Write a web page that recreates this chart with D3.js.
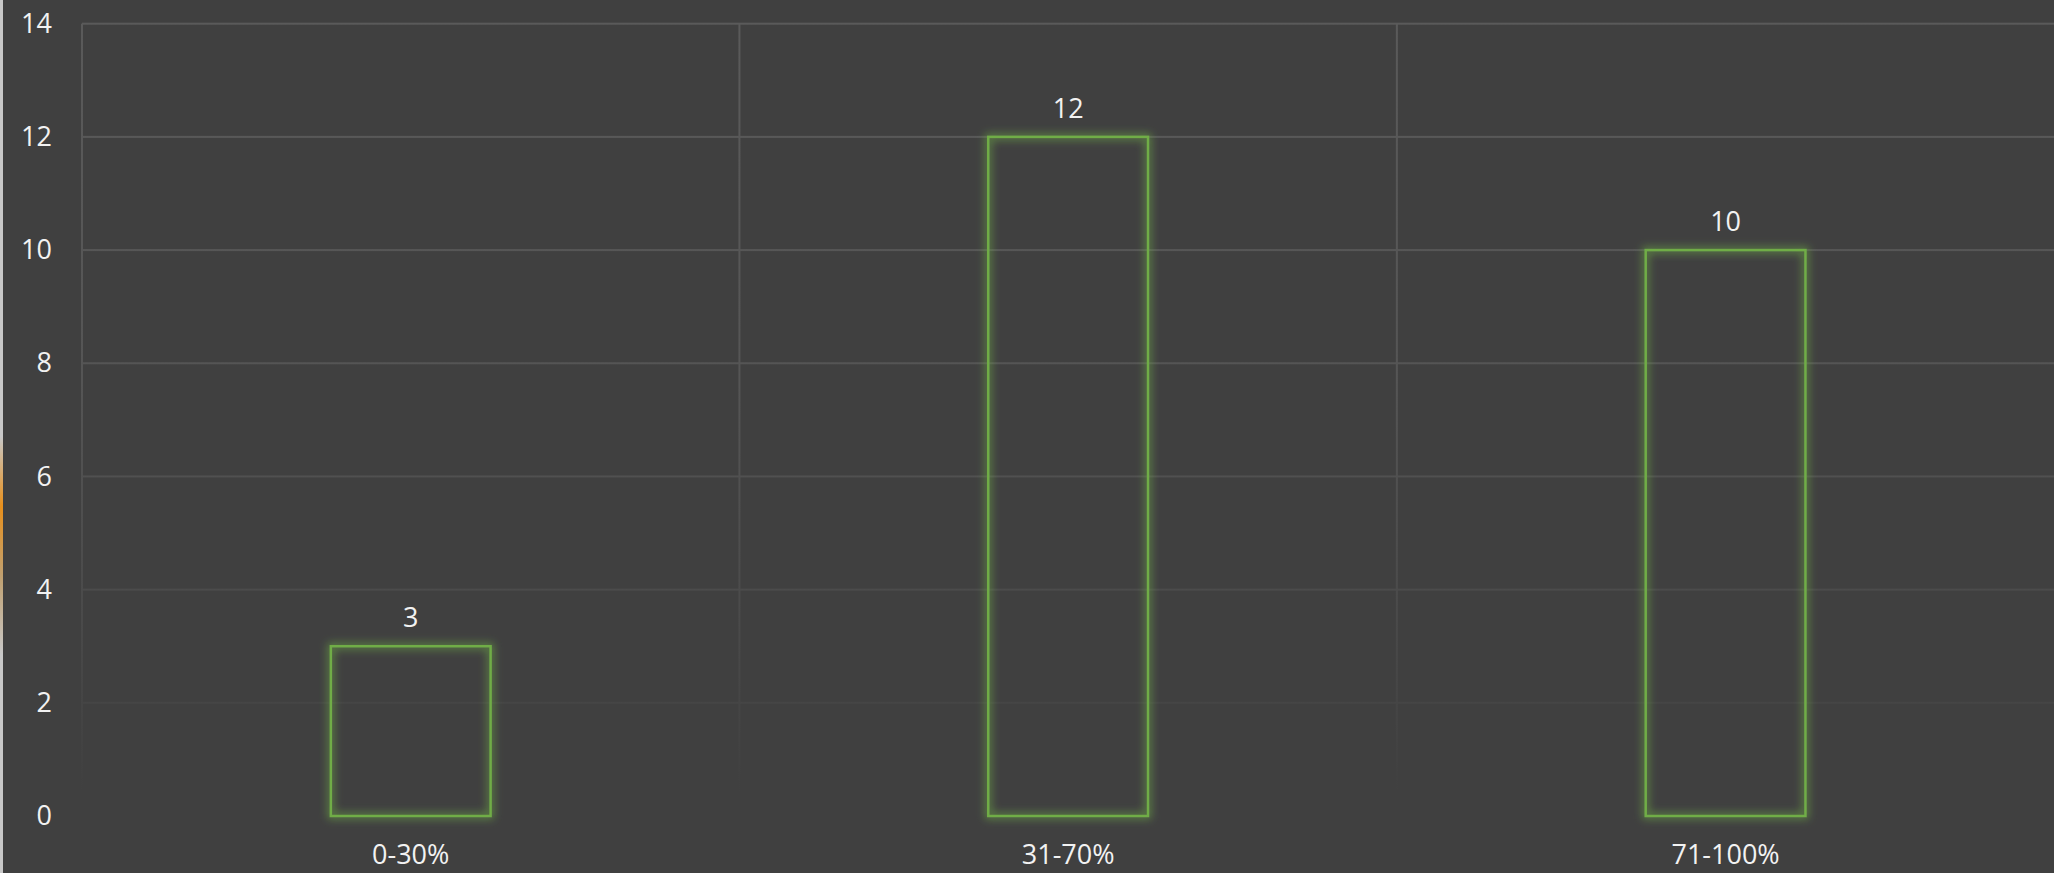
<!DOCTYPE html>
<html>
<head>
<meta charset="utf-8">
<script src="https://cdn.jsdelivr.net/npm/d3@7"></script>
<style>
  html, body { margin: 0; padding: 0; background: #404040; overflow: hidden; }
  svg { display: block; }
</style>
</head>
<body>
<svg id="chart" width="2054" height="873"></svg>
<script>
// data
var categories = ['0-30%', '31-70%', '71-100%'];
var counts = [3, 12, 10];
var yTicks = [0, 2, 4, 6, 8, 10, 12, 14];

var W = 2054, H = 873;
// plot edges (not "top": that name is taken by window.top)
var plotLeft = 82, plotRight = W + 0.3, plotTop = 23.7, plotBottom = 816;

var svg = d3.select('#chart');

svg.append('rect').attr('width', W).attr('height', H).attr('fill', '#404040');

var defs = svg.append('defs');

// thin window edge on the left, orange in the middle
var edge = defs.append('linearGradient')
    .attr('id', 'edgeFade')
    .attr('x1', 0).attr('y1', 0).attr('x2', 0).attr('y2', 1);
edge.append('stop').attr('offset', '0%').attr('stop-color', '#c8c8c8');
edge.append('stop').attr('offset', '50%').attr('stop-color', '#c8c8c8');
edge.append('stop').attr('offset', '58%').attr('stop-color', '#e8901c');
edge.append('stop').attr('offset', '66%').attr('stop-color', '#c0a070');
edge.append('stop').attr('offset', '75%').attr('stop-color', '#c8c8c8');
edge.append('stop').attr('offset', '100%').attr('stop-color', '#c8c8c8');
svg.append('rect').attr('x', 0).attr('y', 0).attr('width', 3).attr('height', H).attr('fill', 'url(#edgeFade)');

// gridline fade towards the bottom
var fade = defs.append('linearGradient')
    .attr('id', 'gridFade')
    .attr('gradientUnits', 'userSpaceOnUse')
    .attr('x1', 0).attr('y1', plotTop).attr('x2', 0).attr('y2', plotBottom);
fade.append('stop').attr('offset', '0%').attr('stop-color', '#5a5a5a');
fade.append('stop').attr('offset', '45%').attr('stop-color', '#555555');
fade.append('stop').attr('offset', '75%').attr('stop-color', '#4a4a4a');
fade.append('stop').attr('offset', '97%').attr('stop-color', '#404040');

// soft green glow round the bars
var glow = defs.append('filter')
    .attr('id', 'glow')
    .attr('x', '-50%').attr('y', '-50%').attr('width', '200%').attr('height', '200%');
glow.append('feMorphology').attr('in', 'SourceGraphic').attr('operator', 'dilate').attr('radius', 2).attr('result', 'thick');
glow.append('feGaussianBlur').attr('in', 'thick').attr('stdDeviation', 4).attr('result', 'blur');
glow.append('feComponentTransfer').attr('in', 'blur').attr('result', 'soft')
    .append('feFuncA').attr('type', 'linear').attr('slope', 0.6);
var merge = glow.append('feMerge');
merge.append('feMergeNode').attr('in', 'soft');
merge.append('feMergeNode').attr('in', 'SourceGraphic');

var x = d3.scaleBand().domain(categories).range([plotLeft, plotRight]).padding(0);
var y = d3.scaleLinear().domain([0, 14]).range([plotBottom, plotTop]);

// horizontal gridlines (thin rects so the user-space gradient applies)
svg.append('g').selectAll('rect')
    .data(yTicks.filter(function (d) { return d > 0; }))
    .join('rect')
    .attr('x', plotLeft).attr('width', W - plotLeft)
    .attr('y', function (d) { return y(d) - 1; })
    .attr('height', 2)
    .attr('fill', 'url(#gridFade)');

// vertical gridlines at the category borders
svg.append('g').selectAll('rect')
    .data(categories)
    .join('rect')
    .attr('x', function (d) { return x(d) - 1; })
    .attr('width', 2)
    .attr('y', plotTop).attr('height', plotBottom - plotTop)
    .attr('fill', 'url(#gridFade)');

// y axis labels
var yAxis = d3.axisLeft(y).tickValues(yTicks).tickSize(0).tickPadding(0);
var ya = svg.append('g').attr('transform', 'translate(52,0)').call(yAxis);
ya.select('.domain').remove();
ya.selectAll('text')
    .attr('fill', '#f2f2f2')
    .attr('font-family', '"Open Sans", "Noto Sans", sans-serif')
    .attr('font-size', 27);

// x axis labels
var xAxis = d3.axisBottom(x).tickSize(0).tickPadding(0);
var xa = svg.append('g').attr('transform', 'translate(0,' + 845 + ')').call(xAxis);
xa.select('.domain').remove();
xa.selectAll('text')
    .attr('fill', '#f2f2f2')
    .attr('font-family', '"Open Sans", "Noto Sans", sans-serif')
    .attr('font-size', 27);

// bars
var barW = x.bandwidth() * 0.243;
svg.append('g').selectAll('rect')
    .data(counts)
    .join('rect')
    .attr('x', function (d, i) { return x(categories[i]) + x.bandwidth() / 2 - barW / 2; })
    .attr('y', function (d) { return y(d); })
    .attr('width', barW)
    .attr('height', function (d) { return y(0) - y(d); })
    .attr('fill', 'none')
    .attr('stroke', '#70ad47')
    .attr('stroke-width', 2.5)
    .attr('filter', 'url(#glow)');

// value labels
svg.append('g').selectAll('text')
    .data(counts)
    .join('text')
    .attr('x', function (d, i) { return x(categories[i]) + x.bandwidth() / 2; })
    .attr('y', function (d) { return y(d) - 19; })
    .attr('text-anchor', 'middle')
    .attr('fill', '#f2f2f2')
    .attr('font-family', '"Open Sans", "Noto Sans", sans-serif')
    .attr('font-size', 27)
    .text(function (d) { return d; });
</script>
</body>
</html>
